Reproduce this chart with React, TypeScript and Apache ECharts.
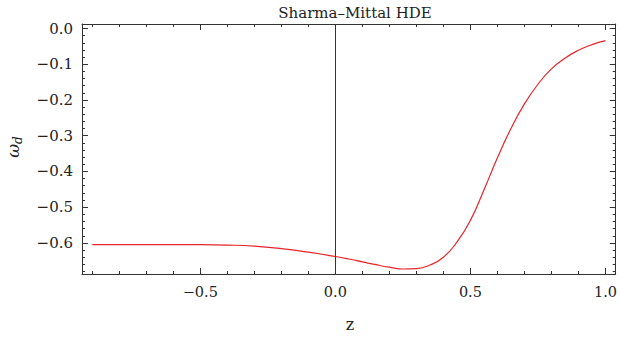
import React, { useEffect, useRef } from "react";
import * as echarts from "echarts";

const zValues = [-0.9, -0.8, -0.7, -0.6, -0.5, -0.4, -0.3, -0.2, -0.1, 0, 0.05, 0.1, 0.15, 0.2, 0.25, 0.3, 0.35, 0.4, 0.45, 0.5, 0.55, 0.6, 0.65, 0.7, 0.75, 0.8, 0.85, 0.9, 0.95, 1.0];
const omegaValues = [-0.605, -0.605, -0.605, -0.605, -0.605, -0.606, -0.609, -0.616, -0.626, -0.638, -0.645, -0.653, -0.661, -0.668, -0.673, -0.672, -0.662, -0.640, -0.598, -0.537, -0.452, -0.362, -0.280, -0.211, -0.156, -0.113, -0.083, -0.061, -0.045, -0.034];

const xMajorTicks = [-0.5, 0, 0.5, 1.0];
const xMinorTicks = [-0.9, -0.8, -0.7, -0.6, -0.5, -0.4, -0.3, -0.2, -0.1, 0, 0.1, 0.2, 0.3, 0.4, 0.5, 0.6, 0.7, 0.8, 0.9, 1.0];
const yMajorTicks = [-0.6, -0.5, -0.4, -0.3, -0.2, -0.1, 0];
const yMinorTicks = [-0.68, -0.66, -0.64, -0.62, -0.6, -0.58, -0.56, -0.54, -0.52, -0.5, -0.48, -0.46, -0.44, -0.42, -0.4, -0.38, -0.36, -0.34, -0.32, -0.3, -0.28, -0.26, -0.24, -0.22, -0.2, -0.18, -0.16, -0.14, -0.12, -0.1, -0.08, -0.06, -0.04, -0.02, 0];

const X_MIN = -0.938;
const X_MAX = 1.038;
const Y_MIN = -0.687;
const Y_MAX = 0.0126;

const FONT = "DejaVu Serif";
const TEXT = "#222";
const AXIS = "#333";

const fmt = (v: number) => (v < 0 ? "\u2212" + Math.abs(v).toFixed(1) : v.toFixed(1));

function makeX(position: "top" | "bottom", ticks: number[], len: number, showLine: boolean, labels: boolean) {
  return {
    type: "value",
    min: X_MIN,
    max: X_MAX,
    position,
    axisLine: { show: showLine, onZero: false, lineStyle: { color: AXIS, width: 1 } },
    axisTick: { show: true, inside: true, length: len, customValues: ticks, lineStyle: { color: AXIS, width: 1 } },
    axisLabel: labels
      ? { show: true, customValues: xMajorTicks, formatter: fmt, fontFamily: FONT, fontSize: 14.5, color: TEXT, margin: 10, hideOverlap: false }
      : { show: false },
    splitLine: { show: false },
  };
}

function makeY(position: "left" | "right", ticks: number[], len: number, showLine: boolean, labels: boolean) {
  return {
    type: "value",
    min: Y_MIN,
    max: Y_MAX,
    position,
    axisLine: { show: showLine, onZero: false, lineStyle: { color: AXIS, width: 1 } },
    axisTick: { show: true, inside: true, length: len, customValues: ticks, lineStyle: { color: AXIS, width: 1 } },
    axisLabel: labels
      ? { show: true, customValues: yMajorTicks, formatter: fmt, fontFamily: FONT, fontSize: 15, color: TEXT, margin: 9 }
      : { show: false },
    splitLine: { show: false },
  };
}

export default function App() {
  const ref = useRef<HTMLDivElement>(null);
  useEffect(() => {
    if (!ref.current) return;
    const chart = echarts.init(ref.current, null, { renderer: "svg" });
    const data = zValues.map((z, i) => [z, omegaValues[i]]);
    chart.setOption({
      animation: false,
      backgroundColor: "#fff",
      title: {
        text: "Sharma\u2013Mittal HDE",
        left: 350,
        top: 0,
        textAlign: "center",
        textStyle: { fontFamily: FONT, fontSize: 15, fontWeight: "normal", color: TEXT },
      },
      grid: { left: 82, right: 1, top: 24, bottom: 66, containLabel: false },
      xAxis: [
        makeX("bottom", xMinorTicks, 3, true, true),
        makeX("bottom", xMajorTicks, 6, false, false),
        makeX("top", xMinorTicks, 3, true, false),
        makeX("top", xMajorTicks, 6, false, false),
      ],
      yAxis: [
        makeY("left", yMinorTicks, 3, true, true),
        makeY("left", yMajorTicks, 6, false, false),
        makeY("right", yMinorTicks, 3, true, false),
        makeY("right", yMajorTicks, 6, false, false),
      ],
      graphic: [
        {
          type: "text",
          x: 350,
          y: 324,
          style: { text: "z", fontFamily: FONT, fontSize: 16, fill: TEXT, textAlign: "center", textVerticalAlign: "middle" },
        },
        {
          type: "text",
          x: 13,
          y: 147,
          rotation: Math.PI / 2,
          style: {
            text: "{w|\u03c9}{d|d}",
            fontFamily: FONT,
            fill: TEXT,
            textAlign: "center",
            textVerticalAlign: "middle",
            rich: {
              w: { fontFamily: FONT, fontSize: 17, fontStyle: "italic", fill: TEXT },
              d: { fontFamily: FONT, fontSize: 12, fontStyle: "italic", fill: TEXT, padding: [10, 0, 0, 0] },
            },
          },
        },
      ],
      series: [
        {
          type: "line",
          xAxisIndex: 0,
          yAxisIndex: 0,
          data,
          smooth: 0.5,
          showSymbol: false,
          symbol: "none",
          lineStyle: { color: "#e8242a", width: 1.2 },
          markLine: {
            silent: true,
            symbol: "none",
            label: { show: false },
            lineStyle: { color: AXIS, width: 1, type: "solid" },
            data: [{ xAxis: 0 }],
          },
        },
      ],
    });
    return () => chart.dispose();
  }, []);
  return <div ref={ref} style={{ position: "absolute", left: 0, top: 0, width: 620, height: 340 }} />;
}
